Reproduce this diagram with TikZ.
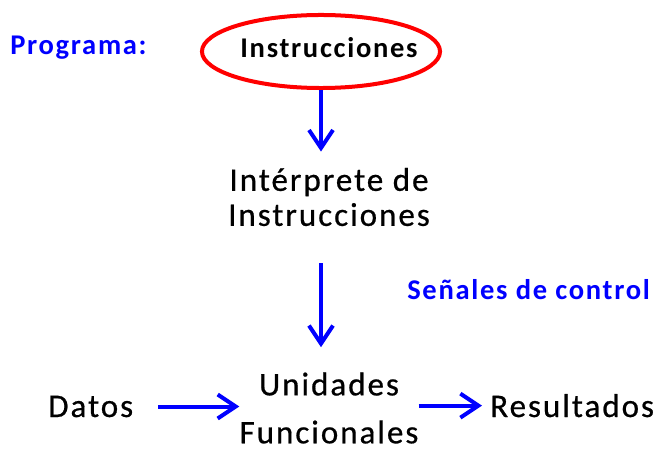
\documentclass[tikz,border=0pt]{standalone}
\usepackage{fontspec}
\setmainfont{Carlito}[LetterSpace=6,UprightFeatures={FakeBold=0.6}]
\usetikzlibrary{shapes,arrows.meta,calc}

\begin{document}
\begin{tikzpicture}[x=0.025cm,y=-0.025cm,
    txt/.style={font=\fontsize{23.5}{24.9}\selectfont,inner sep=0pt,align=center},
    azul/.style={font=\fontsize{20.3}{22}\selectfont\bfseries,text=blue,inner sep=0pt},
    flecha/.style={draw=blue,line width=0.1cm,-{Straight Barb[length=0.45cm,width=0.6cm]}}]
        \useasboundingbox (0,0) rectangle (672,466);
        \node[azul,anchor=base west] (prog) at (10,55) {Programa:};
        \node[ellipse,draw=red,line width=0.1cm,minimum width=5.95cm,minimum height=1.825cm,inner sep=0pt] (instr) at (321,51.5) {};
        \node[font=\fontsize{20.3}{22}\selectfont\bfseries,inner sep=0pt,anchor=base] (instrtxt) at (329,58) {Instrucciones};
        \node[txt] (interp) at (329,197) {Intérprete de\\Instrucciones};
        \node[azul,anchor=base west] (senales) at (407,299) {Señales de control};
        \node[txt,font=\fontsize{23.5}{34.1}\selectfont] (unid) at (329,408) {Unidades\\Funcionales};
        \node[txt,anchor=base west] (datos) at (48,417) {Datos};
        \node[txt,anchor=base west] (result) at (490,417) {Resultados};
        % flechas
        \draw[flecha,shorten >=0.4cm] (instr.south) -- (instr.south |- interp.north);
        \draw[flecha,shorten <=0.925cm,shorten >=0.625cm] (instr.south |- interp.south) -- (instr.south |- unid.north);
        \draw[flecha,shorten <=0.625cm] (datos.east) -- (datos.east -| unid.west);
        \draw[flecha,shorten >=0.2cm] (unid.east |- result.west) -- (result.west);
\end{tikzpicture}
\end{document}
